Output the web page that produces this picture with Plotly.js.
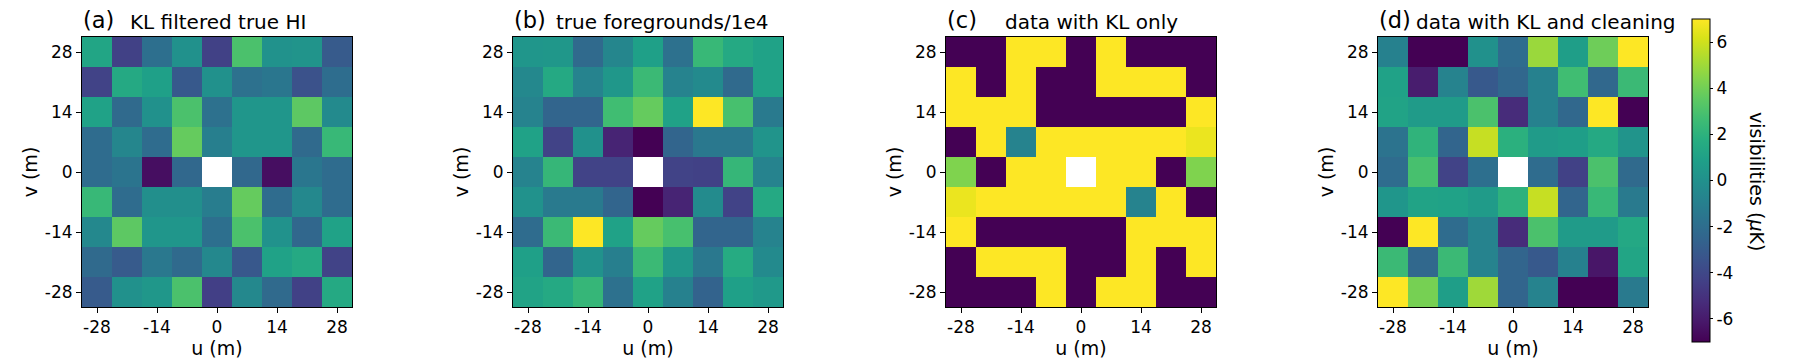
<!DOCTYPE html>
<html>
<head>
<meta charset="utf-8">
<script src="https://cdn.plot.ly/plotly-3.0.1.min.js"></script>
<style>
  html, body { margin: 0; padding: 0; background: #fff; }
  #plot { width: 1800px; height: 360px; }
</style>
</head>
<body>
<div id="plot"></div>
<script>
/* ── DATA ─────────────────────────────── */
// baselines in metres, 7 m spacing
const uVals = [-28, -21, -14, -7, 0, 7, 14, 21, 28];
// rows listed top (v = 28) to bottom (v = -28)
const vVals = [28, 21, 14, 7, 0, -7, -14, -21, -28];
const tickVals = [-28, -14, 0, 14, 28];
const tickText = ['-28', '-14', '0', '14', '28'];
const cbarTickVals = [-6, -4, -2, 0, 2, 4, 6];
const cbarTickText = ['-6', '-4', '-2', '0', '2', '4', '6'];

// (a) KL filtered true HI, μK
const klTrueHI = [
  [ 1.2, -4.3, -1.9,  0.0, -4.3,  3.0,  0.1,  0.2, -3.0],
  [-4.2,  1.5,  0.9, -3.1,  0.0, -1.8, -1.5, -3.5, -2.0],
  [ 1.0, -2.2,  0.0,  3.0, -1.8,  0.3,  0.3,  3.5, -0.4],
  [-2.1, -0.6, -2.1,  3.7, -1.0,  0.3,  0.3, -2.2,  2.4],
  [-2.1, -1.6, -6.5, -2.3, null, -2.3, -6.5, -1.5, -2.1],
  [ 2.4, -2.1, -0.1, -0.1, -1.1,  3.7, -2.1, -0.5, -2.1],
  [-0.5,  3.5,  0.3,  0.3, -1.9,  3.0,  0.1, -2.4,  1.0],
  [-2.2, -3.0, -1.4, -2.2, -0.5, -3.2,  1.0,  1.5, -4.2],
  [-3.0,  0.0,  0.4,  3.0, -4.4, -0.5, -2.2, -4.3,  1.5],
];

// (b) true foregrounds / 1e4
const trueFg = [
  [ 0.3,  0.4, -2.2, -0.6,  0.9, -1.8,  2.4,  1.5,  1.0],
  [-0.5,  1.5, -0.8,  0.4,  2.5, -0.8, -0.4, -2.2,  1.0],
  [-0.8, -2.5, -2.5,  2.7,  3.7,  1.0,  7.2,  2.9, -1.3],
  [ 1.0, -4.2,  0.0, -5.6, -7.2, -2.5, -1.4, -1.4,  0.2],
  [-0.8,  2.3, -4.2, -4.2, null, -4.2, -4.3,  2.3, -0.8],
  [ 0.1, -1.3, -1.3, -2.5, -7.2, -5.6, -0.3, -4.2,  1.5],
  [-2.1,  2.5,  7.2,  1.0,  3.7,  2.9, -2.5, -2.5, -0.8],
  [ 0.9, -2.5,  0.1, -1.0,  2.5,  0.4, -1.4,  1.6, -0.4],
  [ 1.1,  1.5,  2.3, -1.8,  1.0, -0.9, -2.6,  0.9,  0.5],
];

// (c) data with KL only (mostly beyond the colour range)
const dataKL = [
  [-9, -9,  9,  9, -9,  9, -9, -9, -9],
  [ 9, -9,  9, -9, -9,  9,  9,  9, -9],
  [ 9,  9,  9, -9, -9, -9, -9, -9,  9],
  [-9,  9, -0.8, 9, 9,  9,  9,  9,  6.6],
  [ 4.3, -9, 9,  9, null, 9, 9, -9,  4.3],
  [ 6.6, 9,  9,  9,  9,  9, -0.8, 9, -9],
  [ 9, -9, -9, -9, -9, -9,  9,  9,  9],
  [-9,  9,  9,  9, -9, -9,  9, -9,  9],
  [-9, -9, -9,  9, -9,  9,  9, -9, -9],
];

// (d) data with KL and cleaning
const dataClean = [
  [-0.9, -7.5, -7.5,  0.0, -2.1,  4.9,  0.8,  3.9,  7.5],
  [ 1.0, -5.9, -0.8, -3.1, -2.4, -0.9,  2.7, -2.3,  2.5],
  [ 1.1,  0.6,  0.6,  3.0, -5.3, -0.9, -2.3,  7.5, -7.5],
  [-1.7,  2.1, -2.5,  5.8,  1.9,  0.6,  0.8,  1.5,  0.2],
  [-2.1,  2.9, -4.2, -1.9, null, -2.1, -4.3,  3.0, -2.2],
  [ 0.3,  1.1,  1.0,  0.6,  2.0,  5.8, -2.5,  2.4, -1.3],
  [-7.5,  7.5, -2.1, -0.8, -5.3,  3.0,  0.6,  0.6,  1.4],
  [ 2.5, -2.3,  2.5, -0.8, -2.5, -3.1, -0.9, -6.2,  1.2],
  [ 7.5,  4.1,  0.8,  5.0, -2.5, -0.8, -7.5, -7.5, -1.3],
];

const panelLetters = ['(a)', '(b)', '(c)', '(d)'];
const panelTitles = ['KL filtered true HI', 'true foregrounds/1e4', 'data with KL only', 'data with KL and cleaning'];
const panelData = [klTrueHI, trueFg, dataKL, dataClean];

/* ── LAYOUT (pixel geometry of the 1800x360 figure) ── */
const W = 1800, H = 360;
const FONT = 'DejaVu Sans, sans-serif';
const plotLeft = [82, 513, 946, 1378];
const plotSize = 270;
const plotTop = 37;
const letterX = [81, 512, 945, 1377];
const titleX = [128, 554, 1003, 1414];

const yDom = [1 - (plotTop + plotSize) / H, 1 - plotTop / H];

const axisBase = {
  range: [-31.5, 31.5],
  tickvals: tickVals,
  ticktext: tickText,
  ticks: 'outside',
  ticklen: 5,
  tickwidth: 1,
  tickcolor: '#000',
  showline: true,
  mirror: true,
  linecolor: '#000',
  linewidth: 1,
  showgrid: false,
  zeroline: false,
  tickfont: { family: FONT, size: 17, color: '#000' },
  fixedrange: true,
};

const traces = [];
const layout = {
  width: W, height: H,
  paper_bgcolor: '#fff',
  plot_bgcolor: '#fff',
  margin: { l: 0, r: 0, t: 0, b: 0 },
  font: { family: FONT, color: '#000' },
  showlegend: false,
  annotations: [],
};

panelData.forEach((z, i) => {
  const n = i === 0 ? '' : String(i + 1);
  traces.push({
    type: 'heatmap',
    x: uVals, y: vVals, z,
    xaxis: 'x' + n, yaxis: 'y' + n,
    colorscale: 'Viridis',
    zmin: -7, zmax: 7,
    showscale: i === 3,
    hoverongaps: false,
    colorbar: i === 3 ? {
      x: 1692 / W, xanchor: 'left', xpad: 0,
      y: 1 - 180.5 / H, yanchor: 'middle', ypad: 0,
      len: 323 / H, lenmode: 'fraction',
      thickness: 18,
      outlinewidth: 1, outlinecolor: '#000',
      tickvals: cbarTickVals,
      ticktext: cbarTickText,
      ticks: 'outside', ticklen: 3, tickcolor: '#000',
      tickfont: { family: FONT, size: 17, color: '#000' },
    } : undefined,
  });

  const x0 = plotLeft[i] / W, x1 = (plotLeft[i] + plotSize) / W;
  layout['xaxis' + n] = {
    ...axisBase,
    domain: [x0, x1],
    anchor: 'y' + n,
    title: { text: 'u (m)', font: { family: FONT, size: 19, color: '#000' }, standoff: 4 },
  };
  layout['yaxis' + n] = {
    ...axisBase,
    domain: yDom,
    anchor: 'x' + n,
    title: { text: 'v (m)', font: { family: FONT, size: 19, color: '#000' }, standoff: 2 },
  };

  layout.annotations.push({
    text: panelLetters[i], xref: 'paper', yref: 'paper',
    x: letterX[i] / W, y: 1 - 35 / H, xanchor: 'left', yanchor: 'bottom',
    showarrow: false, font: { family: FONT, size: 22.5, color: '#000' },
  });
  layout.annotations.push({
    text: panelTitles[i], xref: 'paper', yref: 'paper',
    x: titleX[i] / W, y: 1 - 36 / H, xanchor: 'left', yanchor: 'bottom',
    showarrow: false, font: { family: FONT, size: 20, color: '#000' },
  });
});

// colorbar label, rotated to read top-to-bottom
layout.annotations.push({
  text: 'visibilities (<i>μ</i>K)', xref: 'paper', yref: 'paper',
  x: 1757 / W, y: 1 - 181 / H, xanchor: 'center', yanchor: 'middle',
  textangle: 90, showarrow: false,
  font: { family: FONT, size: 19, color: '#000' },
});

Plotly.newPlot('plot', traces, layout, { displayModeBar: false, staticPlot: true });
</script>
</body>
</html>
